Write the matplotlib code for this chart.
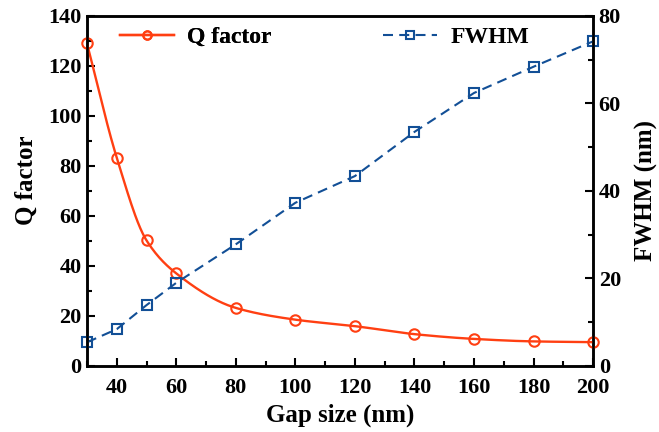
import numpy as np
import matplotlib
matplotlib.use('Agg')
from matplotlib import pyplot as plt
from matplotlib.ticker import MultipleLocator

plt.rcParams['font.family'] = 'Liberation Serif'
plt.rcParams['font.weight'] = 'bold'
plt.rcParams['mathtext.default'] = 'regular'

gap = [30, 40, 50, 60, 80, 100, 120, 140, 160, 180, 200]
qFactor = [129, 83.3, 50.2, 37.0, 23.2, 18.5, 15.9, 12.7, 10.8, 9.8, 9.5]
fwhm = [5.4, 8.4, 13.9, 19.0, 27.8, 37.3, 43.4, 53.5, 62.4, 68.4, 74.2]

qColor = '#ff3f12'
fColor = '#124f96'


def pchip(x, y, xs):
    # monotone cubic curve through the points, used only for drawing the line
    x = np.asarray(x, float)
    y = np.asarray(y, float)
    h = np.diff(x)
    d = np.diff(y) / h
    m = np.zeros_like(y)
    for k in range(1, len(x) - 1):
        if d[k - 1] * d[k] > 0:
            w1 = 2 * h[k] + h[k - 1]
            w2 = h[k] + 2 * h[k - 1]
            m[k] = (w1 + w2) / (w1 / d[k - 1] + w2 / d[k])
    m[0] = d[0]
    m[-1] = d[-1]
    idx = np.clip(np.searchsorted(x, xs) - 1, 0, len(x) - 2)
    t = (xs - x[idx]) / h[idx]
    h00 = 2 * t**3 - 3 * t**2 + 1
    h10 = t**3 - 2 * t**2 + t
    h01 = -2 * t**3 + 3 * t**2
    h11 = t**3 - t**2
    return (h00 * y[idx] + h10 * h[idx] * m[idx] +
            h01 * y[idx + 1] + h11 * h[idx] * m[idx + 1])


fig = plt.figure(figsize=(6.59, 4.32), dpi=100)
ax = fig.add_axes([0.132, 0.153, 0.768, 0.81])
ax2 = ax.twinx()

xs = np.linspace(gap[0], gap[-1], 400)
ax.plot(xs, pchip(gap, qFactor, xs), color=qColor, lw=1.7, zorder=3)
ax.plot(gap, qFactor, 'o', color=qColor, mfc='none', mew=1.5, ms=7.5,
        zorder=4, clip_on=False)
qHandle, = ax.plot([], [], '-o', color=qColor, mfc='none', mew=1.5, ms=6,
                   lw=1.7)

ax2.plot(gap, fwhm, '--s', color=fColor, mfc='none', mew=1.5, ms=6.5,
         lw=1.5, dashes=(4.8, 3), clip_on=False)
fHandle, = ax2.plot([], [], '--s', color=fColor, mfc='none', mew=1.5,
                    ms=5.5, lw=1.5, dashes=(4.8, 3))

ax.set_xlim(30, 200)
ax.set_ylim(0, 140)
ax2.set_ylim(0, 80)

ax.xaxis.set_major_locator(MultipleLocator(20))
ax.xaxis.set_minor_locator(MultipleLocator(10))
ax.yaxis.set_major_locator(MultipleLocator(20))
ax.yaxis.set_minor_locator(MultipleLocator(10))
ax2.yaxis.set_major_locator(MultipleLocator(20))
ax2.yaxis.set_minor_locator(MultipleLocator(10))

ax.set_xticks([40, 60, 80, 100, 120, 140, 160, 180, 200])
for a in (ax, ax2):
    a.tick_params(which='both', direction='in', width=1.5, labelsize=16)
    a.tick_params(which='major', length=6)
    a.tick_params(which='minor', length=3.5)
    for s in a.spines.values():
        s.set_linewidth(1.8)
ax.tick_params(axis='x', pad=9)
ax.tick_params(axis='y', pad=4)
ax2.tick_params(axis='y', pad=4)

ax.set_xlabel('Gap size (nm)', fontsize=18, fontweight='bold', labelpad=4)
ax.set_ylabel('Q factor', fontsize=18, fontweight='bold', labelpad=6)
ax.yaxis.set_label_coords(-0.098, 0.53)
ax2.set_ylabel('FWHM (nm)', fontsize=18, fontweight='bold', labelpad=10)

leg1 = ax.legend([qHandle], ['Q factor'], loc='upper left',
                 bbox_to_anchor=(0.065, 0.97), frameon=False, fontsize=17,
                 handlelength=2.3, handletextpad=0.55, borderpad=0,
                 borderaxespad=0)
ax.add_artist(leg1)
ax2.legend([fHandle], ['FWHM'], loc='upper left',
           bbox_to_anchor=(0.585, 0.97), frameon=False, fontsize=17,
           handlelength=2.3, handletextpad=0.55, borderpad=0,
           borderaxespad=0)

fig.savefig('out.png', dpi=100)
